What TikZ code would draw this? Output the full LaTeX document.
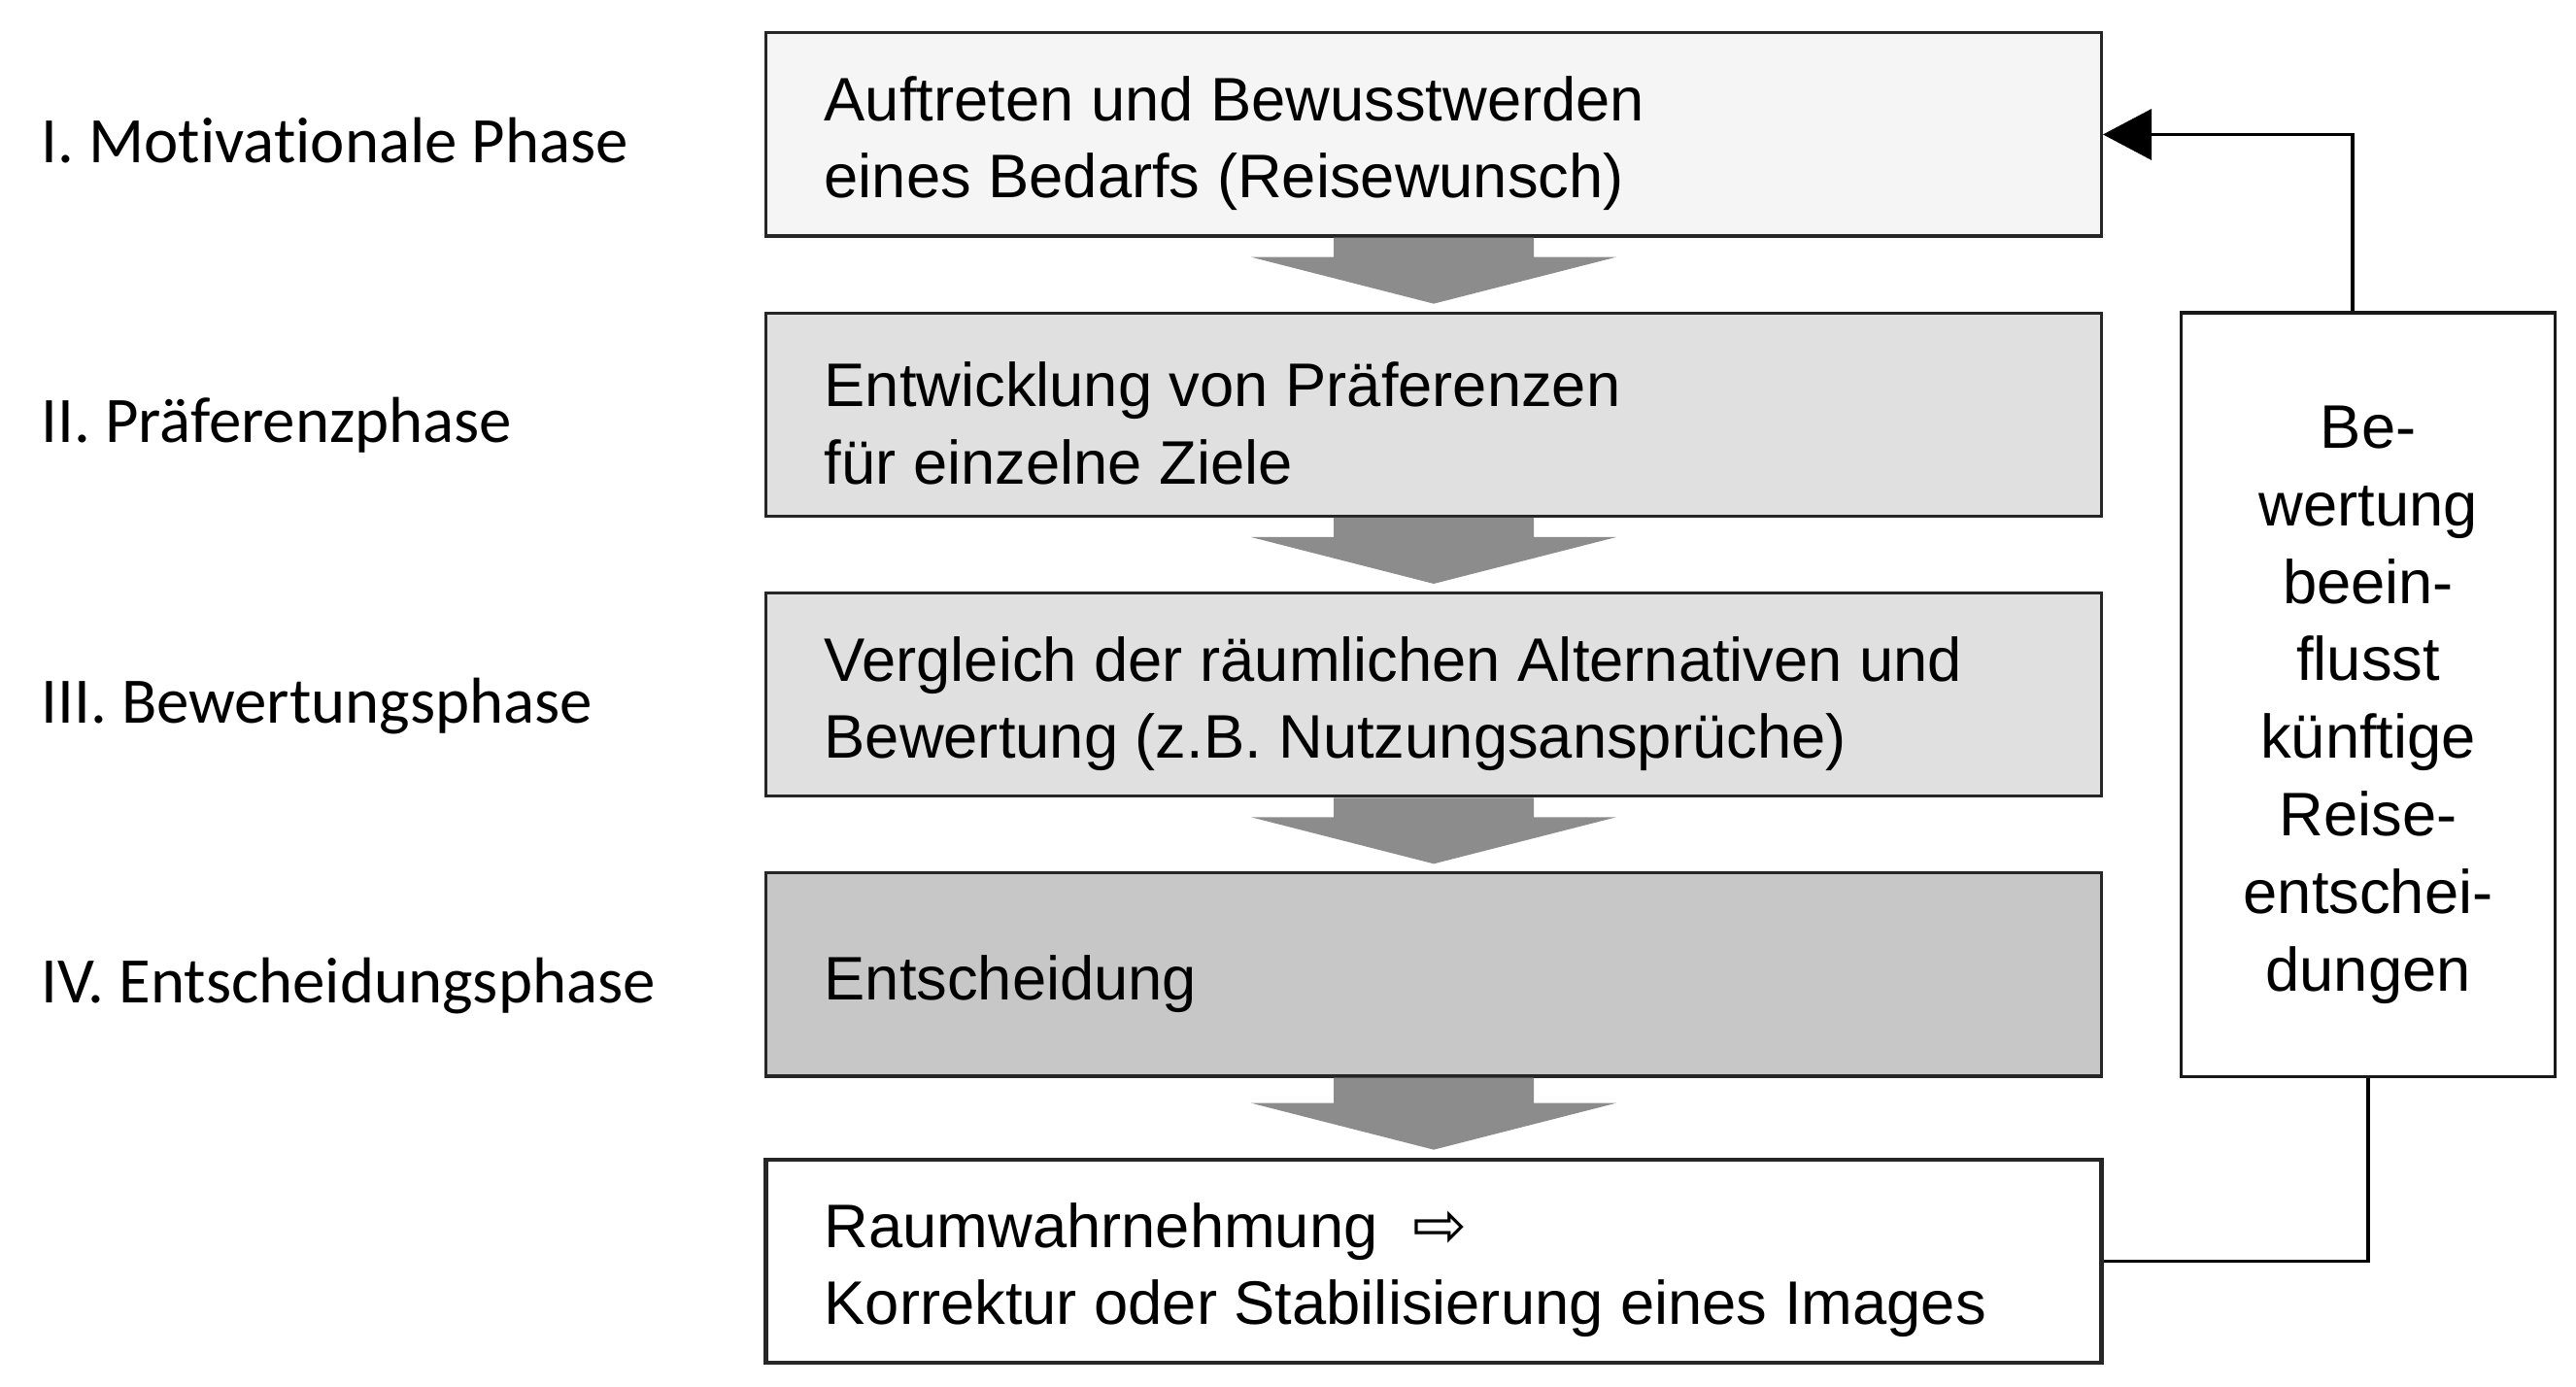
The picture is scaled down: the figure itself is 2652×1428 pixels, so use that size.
\documentclass[tikz,border=0pt]{standalone}
\usepackage{fontspec}
\setmainfont{Liberation Sans}
\newfontfamily\labelfont[Ligatures=NoCommon]{Carlito}
\newfontfamily\symfont{DejaVu Sans}
\usetikzlibrary{positioning,calc,arrows.meta}
\begin{document}
\begin{tikzpicture}[x=0.01cm,y=0.01cm,
    phasebox/.style={draw=black!85,line width=0.9pt,minimum width=13.74cm,minimum height=2.09cm,
        text width=12.54cm,inner xsep=0.6cm,align=flush left,font=\fontsize{18}{22.6}\selectfont,
        execute at begin node={\rule{0pt}{18.3pt}}},
    phaselabel/.style={anchor=base west,inner xsep=0pt,yshift=-0.29cm,font=\labelfont\fontsize{19}{23}\selectfont},
    flowarrow/.style={fill=black!45,draw=none}]
    \useasboundingbox (0,0) rectangle (2652,1428);
    \node[phasebox,fill=black!4] (box1) at (1476,1289.5) {Auftreten und Bewusstwerden\\eines Bedarfs (Reisewunsch)};
    \node[phasebox,fill=black!12,below=0.76cm of box1] (box2) {Entwicklung von Präferenzen\\für einzelne Ziele};
    \node[phasebox,fill=black!12,below=0.76cm of box2] (box3) {Vergleich der räumlichen Alternativen und\\Bewertung (z.B. Nutzungsansprüche)};
    \node[phasebox,fill=black!22,below=0.76cm of box3] (box4) {Entscheidung};
    \node[phasebox,fill=white,line width=1.3pt,below=0.82cm of box4] (box5) {Raumwahrnehmung\hspace{0.36cm}{\symfont\fontsize{19}{22}\selectfont ⇨}\\Korrektur oder Stabilisierung eines Images};
    \node[phaselabel] (lab1) at (42,0 |- box1.center) {I. Motivationale Phase};
    \node[phaselabel] (lab2) at (42,0 |- box2.center) {II. Präferenzphase};
    \node[phaselabel] (lab3) at (42,0 |- box3.center) {III. Bewertungsphase};
    \node[phaselabel] (lab4) at (42,0 |- box4.center) {IV. Entscheidungsphase};
    \foreach \a/\b in {box1/box2,box2/box3,box3/box4,box4/box5}
        \fill[flowarrow] ($(\a.south)+(-103,0)$) -- ($(\b.north)+(-103,56)$) -- ($(\b.north)+(-188,56)$)
            -- ($(\b.north)+(0,8)$) -- ($(\b.north)+(188,56)$) -- ($(\b.north)+(103,56)$)
            -- ($(\a.south)+(103,0)$) -- cycle;
    \node[draw=black!90,line width=1pt,minimum width=3.85cm,minimum height=7.86cm,text width=3.2cm,
        align=center,font=\fontsize{18}{22.7}\selectfont,execute at begin node={\rule{0pt}{18.3pt}}]
        (fb) at (2438,0 |- box3.center)
        {Be-\\wertung\\beein-\\flusst\\künftige\\Reise-\\entschei-\\dungen};
    \coordinate (fbtop) at ($(fb.north)+(-16,0)$);
    \draw[line width=1pt] (box5.east) -| (fb.south);
    \draw[line width=1pt,-{Triangle[length=0.5cm,width=0.52cm]}] (fbtop) |- (box1.east);
\end{tikzpicture}
\end{document}
